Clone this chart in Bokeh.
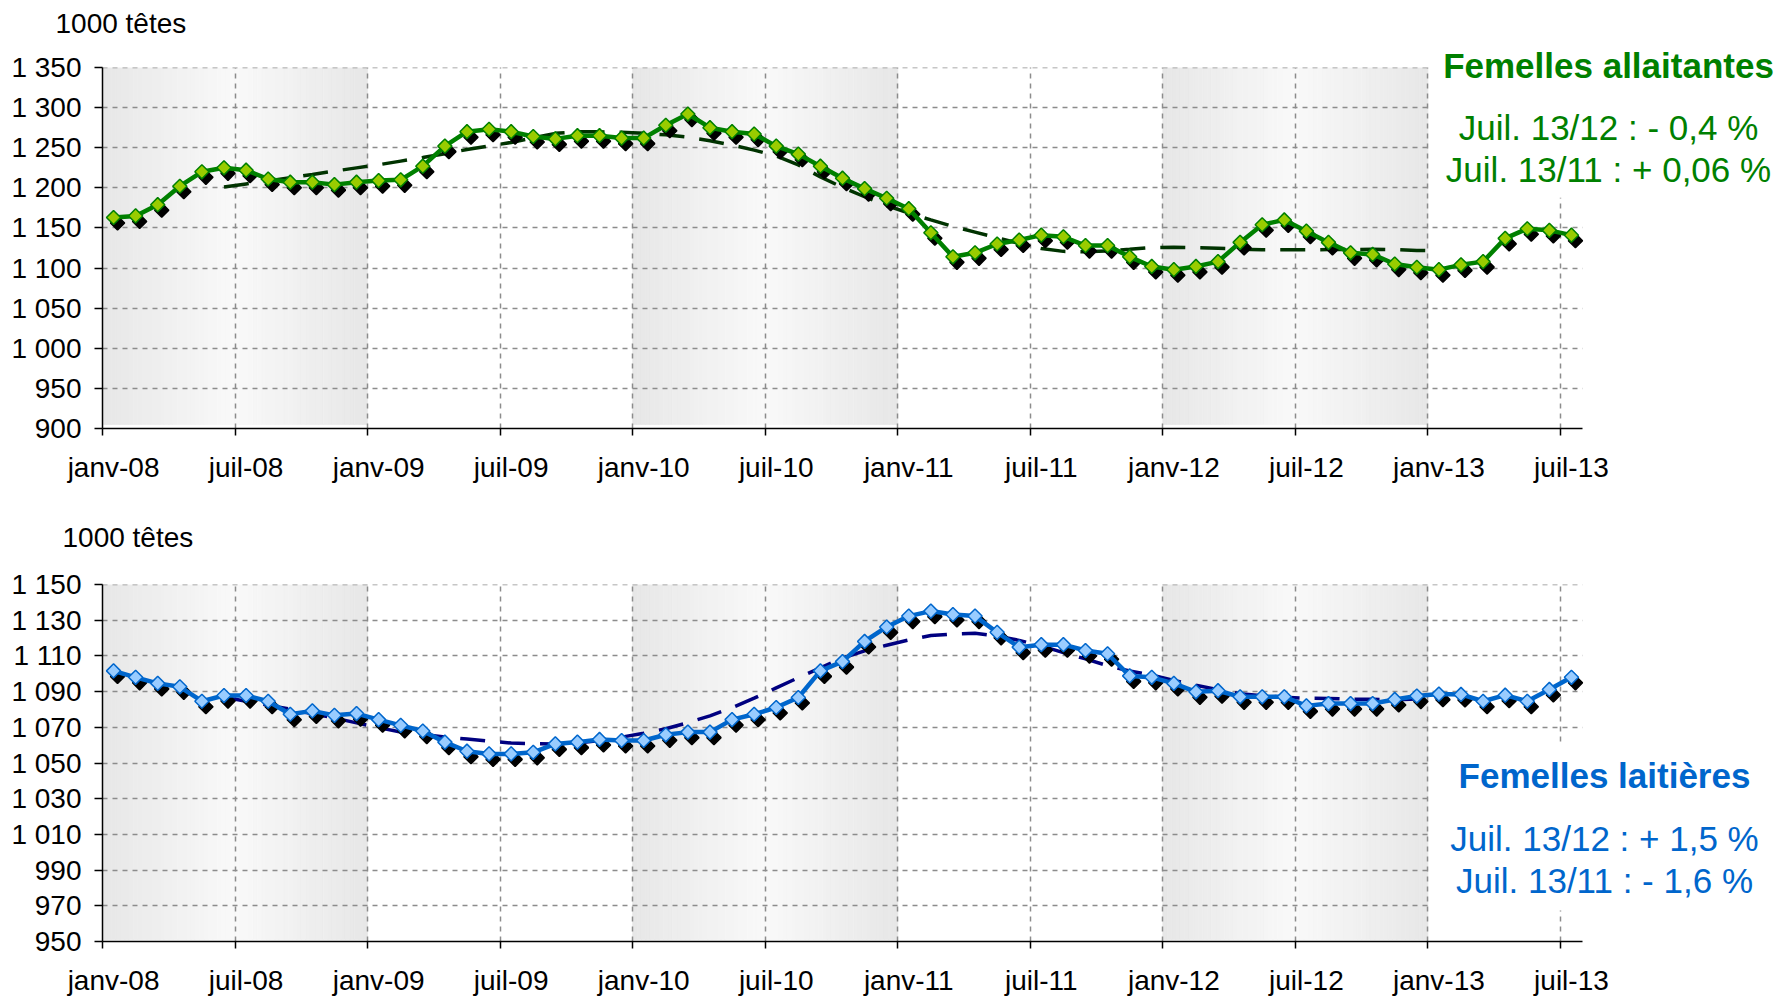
import numpy as np
from bokeh.plotting import figure
from bokeh.layouts import column
from bokeh.models import Range1d, FixedTicker, Label, BoxAnnotation
from bokeh.embed import file_html
from bokeh.resources import INLINE

# ---------------- data ----------------
month_abbr = ["janv", "févr", "mars", "avr", "mai", "juin",
              "juil", "août", "sept", "oct", "nov", "déc"]
years = ["08", "09", "10", "11", "12", "13"]
months = [f"{m}-{y}" for y in years for m in month_abbr][:67]   # janv-08 .. juil-13

tick_labels = ["janv-08", "juil-08", "janv-09", "juil-09", "janv-10", "juil-10",
               "janv-11", "juil-11", "janv-12", "juil-12", "janv-13", "juil-13"]

# Femelles allaitantes (1000 têtes), monthly
allaitantes = [1163, 1165, 1179, 1202, 1220, 1225, 1222, 1211, 1207, 1207, 1204, 1207,
               1209, 1210, 1227, 1252, 1270, 1273, 1270, 1264, 1261, 1265, 1265, 1262,
               1262, 1278, 1292, 1275, 1270, 1267, 1252, 1242, 1227, 1212, 1199, 1187,
               1174, 1144, 1114, 1119, 1130, 1135, 1141, 1139, 1128, 1128, 1114, 1102,
               1098, 1102, 1108, 1132, 1154, 1160, 1146, 1132, 1119, 1117, 1105, 1101,
               1098, 1104, 1108, 1137, 1149, 1147, 1141]
# dashed trend curve (starts at juin-08, ends janv-13)
allaitantes_trend = [1201.0, 1204.9, 1208.6, 1212.6, 1216.7, 1220.9, 1224.9, 1228.8,
                     1233.3, 1237.8, 1242.6, 1247.7, 1252.2, 1256.6, 1262.3, 1267.9,
                     1269.8, 1269.8, 1269.4, 1267.9, 1266.1, 1263.2, 1258.8, 1253.3,
                     1247.0, 1239.7, 1228.5, 1213.6, 1200.6, 1188.9, 1177.8, 1168.6,
                     1160.0, 1151.8, 1144.8, 1137.8, 1130.7, 1124.3, 1120.8, 1120.3,
                     1121.4, 1123.4, 1125.5, 1125.9, 1125.4, 1124.6, 1123.6, 1122.9,
                     1122.8, 1122.8, 1123.0, 1123.0, 1123.4, 1123.0, 1121.9, 1121.5]

# Femelles laitières (1000 têtes), monthly
laitieres = [1101.6, 1098.0, 1094.6, 1092.7, 1084.6, 1087.8, 1087.8, 1084.6, 1077.3, 1079.2, 1076.7, 1077.7,
             1074.3, 1071.1, 1067.9, 1061.7, 1056.6, 1055.1, 1055.1, 1056.0, 1060.7, 1061.7, 1063.2, 1062.6,
             1062.6, 1065.8, 1067.3, 1067.3, 1074.3, 1077.3, 1081.1, 1086.7, 1101.6, 1106.8, 1118.1, 1126.2,
             1132.3, 1135.1, 1133.2, 1132.3, 1123.2, 1114.9, 1116.3, 1116.3, 1113.0, 1111.2, 1098.8, 1098.0,
             1094.6, 1089.9, 1090.5, 1087.1, 1087.1, 1087.1, 1082.0, 1083.3, 1083.3, 1083.3, 1085.6, 1087.5,
             1088.6, 1088.4, 1084.6, 1088.0, 1084.6, 1091.2, 1098.0]
laitieres_trend = [1086.9, 1084.6, 1082.4, 1080.1, 1077.6, 1075.2, 1072.5, 1069.8,
                   1067.4, 1066.0, 1064.6, 1063.4, 1062.2, 1061.2, 1060.8, 1060.7,
                   1061.2, 1062.6, 1064.5, 1066.7, 1069.2, 1072.6, 1076.4, 1081.0,
                   1086.3, 1092.1, 1097.8, 1103.3, 1108.8, 1112.8, 1116.0, 1118.9,
                   1121.4, 1122.3, 1122.7, 1121.1, 1118.7, 1115.6, 1111.8, 1108.3,
                   1104.5, 1101.5, 1099.2, 1096.3, 1093.6, 1091.1, 1088.8, 1087.7,
                   1086.8, 1086.3, 1086.2, 1085.7, 1085.7, 1085.5, 1085.9, 1087.2]
trend_start = "juin-08"

y_ticks_allait = [900, 950, 1000, 1050, 1100, 1150, 1200, 1250, 1300, 1350]
y_labels_allait = ["900", "950", "1 000", "1 050", "1 100", "1 150", "1 200", "1 250", "1 300", "1 350"]
y_ticks_lait = [950, 970, 990, 1010, 1030, 1050, 1070, 1090, 1110, 1130, 1150]
y_labels_lait = ["950", "970", "990", "1 010", "1 030", "1 050", "1 070", "1 090", "1 110", "1 130", "1 150"]

shaded_years = ["08", "10", "12"]

title_allait = "Femelles allaitantes"
notes_allait = ["Juil. 13/12 : - 0,4 %", "Juil. 13/11 : + 0,06 %"]
title_lait = "Femelles laitières"
notes_lait = ["Juil. 13/12 : + 1,5 %", "Juil. 13/11 : - 1,6 %"]
unit_label = "1000 têtes"

# ---------------- layout constants ----------------
FONT = "Liberation Sans"
W = 1780
B_LEFT = 102
FRAME_W = W - B_LEFT              # frame runs to the right edge (texts live there)
PX_PER_MONTH = 1480 / 67          # plotting area of the reference: 1480 px for 67 months

label_pos = [months.index(t) for t in tick_labels]
boundaries = [i - 0.5 for i in label_pos]
n_m = len(months)


def make_fig(height, b_top, b_bottom, ylo, yhi, px_per_unit, yticks, ylabels, series, trend,
             line_col, fill_col, trend_col, band_lo, title_offset):
    frame_h = height - b_top - b_bottom
    y_end = ylo + frame_h / px_per_unit
    x_end = -0.5 + FRAME_W / PX_PER_MONTH
    p = figure(width=W, height=height, output_backend="svg", toolbar_location=None,
               x_range=Range1d(-0.5, x_end), y_range=Range1d(ylo, y_end),
               min_border_left=B_LEFT, min_border_right=0,
               min_border_top=b_top, min_border_bottom=b_bottom)
    p.outline_line_color = None
    p.background_fill_color = "white"
    p.border_fill_color = "white"

    p.title.text = unit_label
    p.title.align = "left"
    p.title.offset = title_offset
    p.title.standoff = 0
    p.title.vertical_align = "bottom"
    p.title.text_font = FONT
    p.title.text_font_size = "28px"
    p.title.text_font_style = "normal"
    p.title.text_color = "black"

    # shaded year bands with a soft horizontal gradient
    n = 60
    lefts, rights, cols = [], [], []
    for yy in shaded_years:
        s = months.index("janv-" + yy) - 0.5
        for k in range(n):
            t = (k + 0.5) / n
            g = int(round(231 + 18 * (1 - abs(2 * t - 1))))
            lefts.append(s + 12 * k / n)
            rights.append(s + 12 * (k + 1) / n)
            cols.append(f"#{g:02x}{g:02x}{g:02x}")
    p.quad(left=lefts, right=rights, bottom=band_lo, top=yhi,
           fill_color=cols, line_color=cols, line_width=0.8, level="image")

    # grids
    p.xgrid.ticker = FixedTicker(ticks=boundaries[1:])
    p.ygrid.ticker = FixedTicker(ticks=yticks[1:])
    for g in (p.xgrid[0], p.ygrid[0]):
        g.grid_line_color = "#8c8c8c"
        g.grid_line_dash = "5 5"
        g.grid_line_width = 1.5
    # mask the grid outside the reference plotting area
    p.add_layout(BoxAnnotation(left=n_m - 0.5, fill_color="white", fill_alpha=1.0,
                               line_color=None, level="underlay"))
    p.add_layout(BoxAnnotation(bottom=yhi, fill_color="white", fill_alpha=1.0,
                               line_color=None, level="underlay"))

    xs = np.arange(len(series))
    t0 = months.index(trend_start)
    xt = np.arange(t0, t0 + len(trend))
    dx = 4.0 / PX_PER_MONTH
    dy = 5.5 / px_per_unit

    p.line(xt, trend, line_color=trend_col, line_width=3.5, line_dash="25 15")
    p.scatter(xs + dx, np.array(series) - dy, marker="square", angle=np.pi / 4, size=10,
              fill_color="black", line_color="black", line_width=1.5)
    p.line(xs, series, line_color=line_col, line_width=4.5)
    p.scatter(xs, series, marker="square", angle=np.pi / 4, size=10,
              fill_color=fill_col, line_color=line_col, line_width=1.5)

    # x axis
    xa = p.xaxis[0]
    xa.bounds = (-0.5, n_m - 0.5)
    xa.ticker = FixedTicker(ticks=label_pos, minor_ticks=boundaries)
    xa.major_label_overrides = {int(k): v for k, v in zip(label_pos, tick_labels)}
    xa.major_tick_out = 0
    xa.major_tick_in = 0
    xa.major_tick_line_color = None
    xa.minor_tick_out = 7
    xa.minor_tick_in = 0
    xa.minor_tick_line_color = "black"
    xa.minor_tick_line_width = 1.5
    xa.axis_line_color = "black"
    xa.axis_line_width = 1.5
    xa.major_label_text_font = FONT
    xa.major_label_text_font_size = "28px"
    xa.major_label_text_color = "black"
    xa.major_label_standoff = 16

    # y axis
    ya = p.yaxis[0]
    ya.bounds = (ylo, yhi)
    ya.ticker = FixedTicker(ticks=yticks)
    ya.major_label_overrides = {int(k): v for k, v in zip(yticks, ylabels)}
    ya.major_tick_out = 8
    ya.major_tick_in = 0
    ya.major_tick_line_color = "black"
    ya.major_tick_line_width = 1.5
    ya.minor_tick_line_color = None
    ya.axis_line_color = "black"
    ya.axis_line_width = 1.5
    ya.major_label_text_font = FONT
    ya.major_label_text_font_size = "28px"
    ya.major_label_text_color = "black"
    ya.major_label_standoff = 13
    return p


def add_texts(p, x, y_title, y_lines, title, notes, color):
    p.add_layout(Label(x=x, y=y_title, x_units="screen", y_units="screen", text=title,
                       text_font=FONT, text_font_size="35px", text_font_style="bold",
                       text_color=color, text_align="center", text_baseline="middle"))
    for yy, txt in zip(y_lines, notes):
        p.add_layout(Label(x=x, y=yy, x_units="screen", y_units="screen", text=txt,
                           text_font=FONT, text_font_size="35px",
                           text_color=color, text_align="center", text_baseline="middle"))


# ---------------- top chart ----------------
# figure page y 0..485 ; frame page y 38 .. 428 ; value 1350 at page y 67
H1, T1, B1 = 485, 38, 57
K1 = (428 - 67) / 450.0
p1 = make_fig(H1, T1, B1, 900, 1350, K1, y_ticks_allait, y_labels_allait,
              allaitantes, allaitantes_trend, "#008000", "#99CC00", "#003300", 905, -47)
# white box behind the text block (hides the grid there, as in the reference)
p1.add_layout(BoxAnnotation(left=59.6, bottom=1187.5, fill_color="white", fill_alpha=1.0,
                            line_color=None, level="underlay"))
add_texts(p1, 1506, 428 - 65, [428 - 127, 428 - 169], title_allait, notes_allait, "#008000")

# ---------------- bottom chart ----------------
# figure page y 485..998 ; frame page y 552 .. 941 ; value 1150 at page y 584
H2, T2, B2 = 513, 67, 57
K2 = (941 - 584) / 200.0
p2 = make_fig(H2, T2, B2, 950, 1150, K2, y_ticks_lait, y_labels_lait,
              laitieres, laitieres_trend, "#0066CC", "#99CCFF", "#000080", 951, -40)
p2.add_layout(BoxAnnotation(left=59.6, bottom=967.4, top=1060.7, fill_color="white", fill_alpha=1.0,
                            line_color=None, level="underlay"))
add_texts(p2, 1502, 941 - 775, [941 - 838, 941 - 880], title_lait, notes_lait, "#0066CC")

layout = column(p1, p2)
open("out.html", "w", encoding="utf-8").write(file_html(layout, INLINE))
